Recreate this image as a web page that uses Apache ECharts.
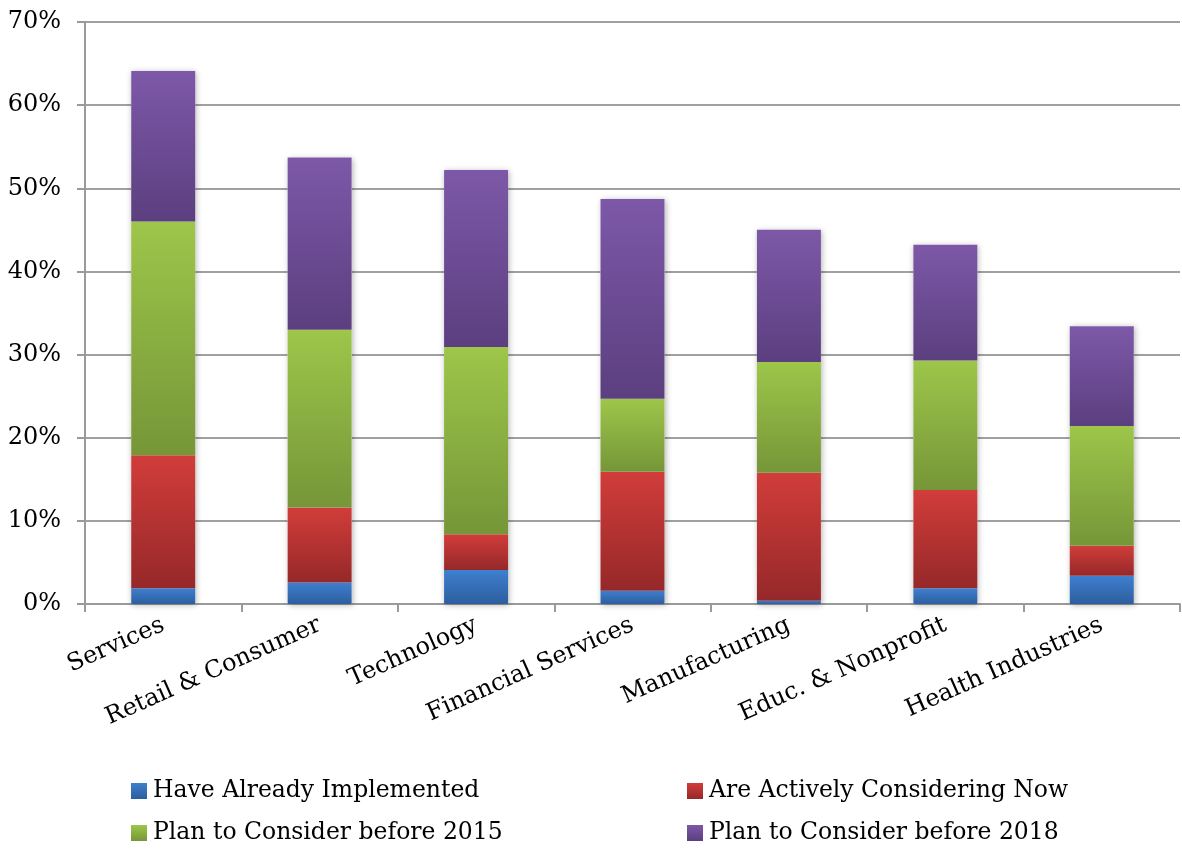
<!DOCTYPE html>
<html>
<head>
<meta charset="utf-8">
<script src="https://cdn.jsdelivr.net/npm/echarts@6/dist/echarts.min.js"></script>
<style>
  html, body { margin: 0; padding: 0; background: #ffffff; }
  #chart { width: 1182px; height: 851px; }
</style>
</head>
<body>
<div id="chart"></div>
<script>
// Industries on the x axis
const categories = ['Services', 'Retail & Consumer', 'Technology', 'Financial Services',
  'Manufacturing', 'Educ. & Nonprofit', 'Health Industries'];

// Share of respondents per stage (percent), stacked bottom to top
const implemented = [1.9, 2.6, 4.1, 1.6, 0.4, 1.9, 3.4];
const consideringNow = [16.0, 9.0, 4.3, 14.3, 15.4, 11.8, 3.6];
const before2015 = [28.1, 21.4, 22.5, 8.8, 13.3, 15.6, 14.4];
const before2018 = [18.1, 20.7, 21.3, 24.0, 15.9, 13.9, 12.0];

const seriesNames = ['Have Already Implemented', 'Are Actively Considering Now',
  'Plan to Consider before 2015', 'Plan to Consider before 2018'];

const yTicks = [0, 10, 20, 30, 40, 50, 60, 70];

const FONT = 'DejaVu Serif';
const FONT_SIZE = 24;

// Column totals, used only for the soft drop shadow behind each column
const totals = categories.map((_, i) =>
  +(implemented[i] + consideringNow[i] + before2015[i] + before2018[i]).toFixed(1));

function grad(top, bottom) {
  return new echarts.graphic.LinearGradient(0, 0, 0, 1, [
    { offset: 0, color: top },
    { offset: 1, color: bottom }
  ]);
}

const palette = [
  ['#3e7fcf', '#2d5e9e'],
  ['#d13d3a', '#962829'],
  ['#9dc64a', '#769638'],
  ['#7d58a8', '#5b3f7f']
];

function barSeries(name, data, idx) {
  return {
    name: name,
    type: 'bar',
    stack: 'total',
    data: data,
    barWidth: 64,
    barGap: '-100%',
    z: 3,
    itemStyle: { color: grad(palette[idx][0], palette[idx][1]) },
    emphasis: { disabled: true }
  };
}

const legendText = { fontFamily: FONT, fontSize: FONT_SIZE - 0.5, color: '#000', padding: [0, 0, 0, 1] };

const chart = echarts.init(document.getElementById('chart'), null, { renderer: 'canvas' });

chart.setOption({
  backgroundColor: '#ffffff',
  animation: false,
  textStyle: { fontFamily: FONT },
  grid: { left: 85, right: 2, top: 22, bottom: 247, containLabel: false },
  legend: [
    {
      data: [seriesNames[0], seriesNames[2]],
      orient: 'vertical',
      left: 126, top: 774,
      itemWidth: 16, itemHeight: 16, itemGap: 18,
      icon: 'rect',
      textStyle: legendText
    },
    {
      data: [seriesNames[1], seriesNames[3]],
      orient: 'vertical',
      left: 682, top: 774,
      itemWidth: 16, itemHeight: 16, itemGap: 18,
      icon: 'rect',
      textStyle: legendText
    }
  ],
  xAxis: {
    type: 'category',
    data: categories,
    boundaryGap: true,
    axisLine: { show: true, lineStyle: { color: '#9a9a9a', width: 2 } },
    axisTick: { show: true, alignWithLabel: false, length: 8, lineStyle: { color: '#9a9a9a', width: 2 } },
    axisLabel: {
      rotate: 24,
      margin: 20,
      interval: 0,
      fontFamily: FONT,
      fontSize: FONT_SIZE,
      color: '#000'
    }
  },
  yAxis: {
    type: 'value',
    min: yTicks[0],
    max: yTicks[yTicks.length - 1],
    interval: 10,
    axisLine: { show: true, lineStyle: { color: '#9a9a9a', width: 2 } },
    axisTick: { show: true, length: 8, lineStyle: { color: '#9a9a9a', width: 2 } },
    splitLine: { show: true, lineStyle: { color: '#a0a0a0', width: 2 } },
    axisLabel: {
      margin: 24,
      fontFamily: FONT,
      fontSize: FONT_SIZE,
      color: '#000',
      formatter: v => v + '%'
    }
  },
  series: [
    {
      name: 'shadow',
      type: 'bar',
      data: totals,
      barWidth: 64,
      z: 2,
      silent: true,
      itemStyle: {
        color: '#ffffff',
        shadowBlur: 6,
        shadowColor: 'rgba(0,0,0,0.3)',
        shadowOffsetX: 1,
        shadowOffsetY: 1
      },
      emphasis: { disabled: true }
    },
    barSeries(seriesNames[0], implemented, 0),
    barSeries(seriesNames[1], consideringNow, 1),
    barSeries(seriesNames[2], before2015, 2),
    barSeries(seriesNames[3], before2018, 3)
  ]
});
</script>
</body>
</html>
